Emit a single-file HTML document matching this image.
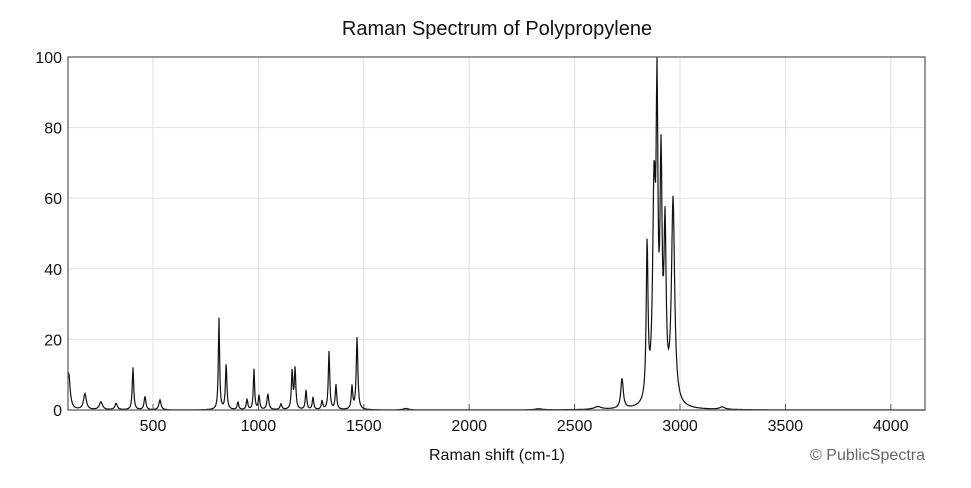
<!DOCTYPE html>
<html><head><meta charset="utf-8"><style>
html,body{margin:0;padding:0;background:#fff;}
svg{display:block;font-family:"Liberation Sans",Arial,sans-serif;}
</style></head><body>
<svg id="s" width="971" height="488" viewBox="0 0 971 488">
<text x="497" y="35" font-size="20" text-anchor="middle" fill="#111">Raman Spectrum of Polypropylene</text>
<g id="grid" stroke="#e2e2e2" stroke-width="1"></g>
<g id="ticks" font-size="16" fill="#111"></g>
<path id="p" fill="none" stroke="#111" stroke-width="1.2"/>
<rect x="68" y="57" width="857" height="353" fill="none" stroke="#555" stroke-width="1.2"/>
<text x="497" y="460" font-size="16" text-anchor="middle" fill="#111">Raman shift (cm-1)</text>
<text x="925" y="460" font-size="16" text-anchor="end" fill="#666">© PublicSpectra</text>
</svg>
<script>
var X=function(c){return 47.6+c*0.2108;},Y=function(v){return 410-v*3.53;};
var ns="http://www.w3.org/2000/svg",g=document.getElementById('grid'),t=document.getElementById('ticks');
function el(p,n,a,txt){var e=document.createElementNS(ns,n);for(var k in a)e.setAttribute(k,a[k]);if(txt)e.textContent=txt;p.appendChild(e);}
for(var c=500;c<=4000;c+=500){var x=X(c);el(g,'line',{x1:x,x2:x,y1:57,y2:410});el(t,'line',{x1:x,x2:x,y1:404,y2:410,stroke:'#555'});el(t,'text',{x:x,y:431,'text-anchor':'middle'},''+c);}
for(var v=0;v<=100;v+=20){var y=Y(v);if(v>0&&v<100)el(g,'line',{x1:68,x2:925,y1:y,y2:y});el(t,'text',{x:62,y:y+6,'text-anchor':'end'},''+v);}
var P=[[100,10.5,8],[177,4.5,8],[253,2.2,9],[325,1.8,7],[405,12,4],[462,3.8,5],[533,2.8,6],[813,26,3.5],[847,13,4],[903,2.2,4],[946,3,4],[979,11.5,3.5],[1003,4,4],[1045,4.5,5],[1107,1.6,5],[1160,11,4],[1174,11.5,4],[1226,5.5,4],[1259,3.5,4],[1302,2.5,4],[1335,16.5,4],[1368,7,4],[1444,6.5,4],[1468,20.5,4.5],[1700,0.4,15],[2330,0.3,20],[2610,0.8,20],[2725,8.5,7],[2844,44,5],[2877,58,8],[2891,78,5],[2910,64,6],[2929,46,6],[2967,58,9],[3200,0.7,15]];
var d='';for(var px=68;px<=925;px+=0.5){var c=(px-47.6)/0.2108,s=0;for(var i=0;i<P.length;i++){var q=(c-P[i][0])/P[i][2];s+=P[i][1]/(1+q*q);}if(s>100)s=100;d+=(d?'L':'M')+px.toFixed(1)+' '+Y(s).toFixed(1);}
document.getElementById('p').setAttribute('d',d);
</script>
</body></html>
